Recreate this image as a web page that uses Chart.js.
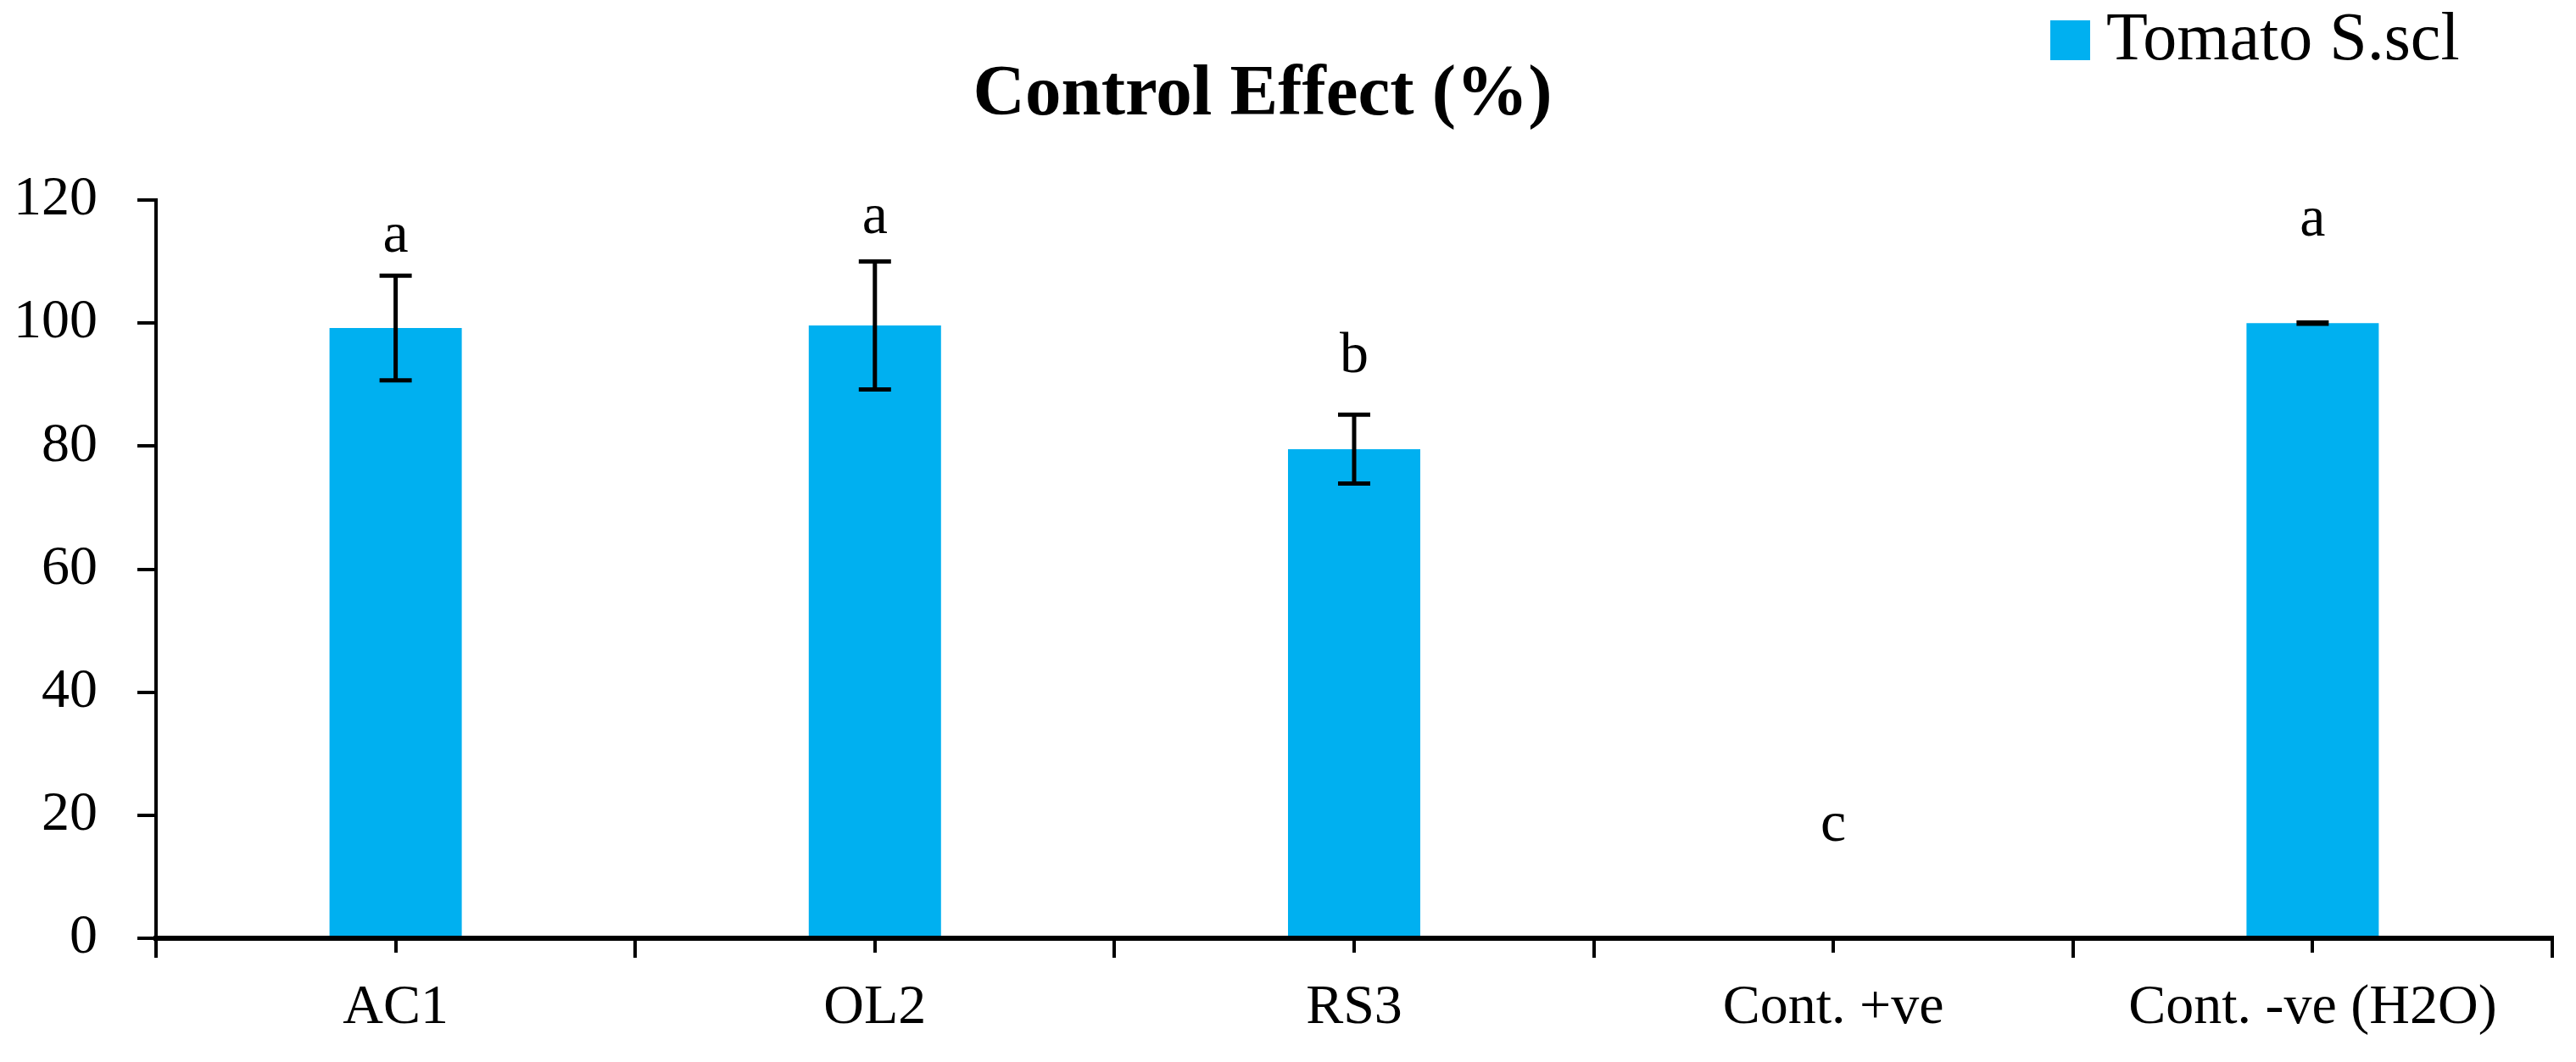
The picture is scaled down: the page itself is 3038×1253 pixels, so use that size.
<!DOCTYPE html>
<html>
<head>
<meta charset="utf-8">
<title>Control Effect (%)</title>
<script src="https://cdn.jsdelivr.net/npm/chart.js@4.4.1/dist/chart.umd.min.js"></script>
<style>
  html, body { margin: 0; padding: 0; background: #fff; }
  #wrap { width: 3038px; height: 1253px; }
</style>
</head>
<body>
<div id="wrap"><canvas id="myChart" width="3038" height="1253"></canvas></div>
<script>
// values
var categories = ["AC1", "OL2", "RS3", "Cont. +ve", "Cont. -ve (H2O)"];
var seriesName = "Tomato S.scl";
var controlEffect = [99.2, 99.6, 79.5, 0, 100];
var errorBars = [8.5, 10.4, 5.6, 0, 0.1];
var letters = ["a", "a", "b", "c", "a"];
var letterHeights = [111.6, 114.6, 92.0, 15.8, 114.2];
var yTicks = [0, 20, 40, 60, 80, 100, 120];

var barColor = "#00B0F0";
var serif = "'Liberation Serif', 'DejaVu Serif', serif";

// error bars with caps
var errorBarPlugin = {
  id: "errorBars",
  afterDatasetsDraw: function (chart) {
    var ctx = chart.ctx;
    var xs = chart.scales.x, ys = chart.scales.y;
    ctx.save();
    ctx.strokeStyle = "#000";
    for (var i = 0; i < controlEffect.length; i++) {
      if (controlEffect[i] == 0) continue;
      var x = xs.getPixelForValue(i);
      var top = ys.getPixelForValue(controlEffect[i] + errorBars[i]);
      var bot = ys.getPixelForValue(controlEffect[i] - errorBars[i]);
      ctx.lineWidth = 5;
      ctx.beginPath();
      ctx.moveTo(x, top);
      ctx.lineTo(x, bot);
      ctx.stroke();
      ctx.lineWidth = 5;
      ctx.beginPath();
      ctx.moveTo(x - 19, top);
      ctx.lineTo(x + 19, top);
      ctx.moveTo(x - 19, bot);
      ctx.lineTo(x + 19, bot);
      ctx.stroke();
    }
    ctx.restore();
  }
};

// significance letters over the bars
var letterPlugin = {
  id: "letters",
  afterDatasetsDraw: function (chart) {
    var ctx = chart.ctx;
    var xs = chart.scales.x, ys = chart.scales.y;
    ctx.save();
    ctx.fillStyle = "#000";
    ctx.font = "68px " + serif;
    ctx.textAlign = "center";
    ctx.textBaseline = "alphabetic";
    for (var i = 0; i < letters.length; i++) {
      ctx.fillText(letters[i], xs.getPixelForValue(i), ys.getPixelForValue(letterHeights[i]));
    }
    ctx.restore();
  }
};

// title and legend
var headerPlugin = {
  id: "header",
  afterDraw: function (chart) {
    var ctx = chart.ctx;
    ctx.save();
    ctx.fillStyle = "#000";
    ctx.textBaseline = "alphabetic";
    ctx.font = "bold 85px " + serif;
    ctx.textAlign = "center";
    ctx.fillText("Control Effect (%)", 1489, 135);
    ctx.fillStyle = barColor;
    ctx.fillRect(2418, 24, 47, 47);
    ctx.fillStyle = "#000";
    ctx.font = "80px " + serif;
    ctx.textAlign = "left";
    ctx.fillText(seriesName, 2484, 70);
    ctx.restore();
  }
};

var ctx = document.getElementById("myChart").getContext("2d");
var chart = new Chart(ctx, {
  type: "bar",
  data: {
    labels: categories,
    datasets: [
      {
        label: seriesName,
        backgroundColor: barColor,
        borderWidth: 0,
        data: controlEffect,
        barPercentage: 0.276,
        categoryPercentage: 1
      }
    ]
  },
  options: {
    responsive: false,
    animation: false,
    devicePixelRatio: 1,
    layout: { padding: { top: 236, right: 28, left: 0, bottom: 0 } },
    plugins: {
      legend: { display: false },
      title: { display: false },
      tooltip: { enabled: false }
    },
    scales: {
      x: {
        type: "category",
        offset: true,
        weight: 1,
        afterFit: function (axis) { axis.height = 146; },
        grid: { offset: true, drawOnChartArea: false, tickLength: 23, lineWidth: 4, color: "#000" },
        border: { display: true, width: 6, color: "#000", z: 1 },
        ticks: { color: "#000", font: { family: serif, size: 66 }, padding: 20, maxRotation: 0, autoSkip: false }
      },
      x2: {
        type: "category",
        labels: categories,
        offset: true,
        position: "bottom",
        weight: 0,
        afterFit: function (axis) { axis.height = 0; },
        grid: { offset: false, drawOnChartArea: false, tickLength: 17, lineWidth: 4, color: "#000" },
        border: { display: false },
        ticks: { display: false }
      },
      y: {
        min: 0,
        max: 120,
        afterBuildTicks: function (axis) {
          axis.ticks = yTicks.map(function (v) { return { value: v }; });
        },
        afterFit: function (axis) { axis.width = 184; },
        grid: { drawOnChartArea: false, tickLength: 22, lineWidth: 4, color: "#000" },
        border: { display: true, width: 4, color: "#000", z: 1 },
        ticks: { color: "#000", font: { family: serif, size: 66 }, padding: 47 }
      }
    }
  },
  plugins: [errorBarPlugin, letterPlugin, headerPlugin]
});
</script>
</body>
</html>
